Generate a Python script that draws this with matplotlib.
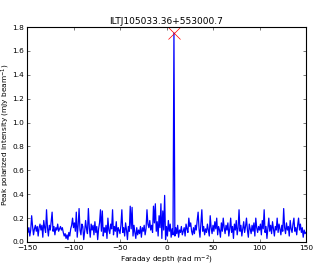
import numpy as np
import matplotlib
matplotlib.use('Agg')
import matplotlib.pyplot as plt

SOURCE = 'ILTJ105033.36+553000.7'
PHI_MIN = -150
PHI_MAX = 150

# peak polarized intensity at each faraday depth, 1 rad m^-2 steps
intensity = [
    0.14, 0.08, 0.12, 0.05, 0.10, 0.22, 0.13, 0.06, 0.11, 0.14,
    0.09, 0.13, 0.05, 0.12, 0.15, 0.10, 0.14, 0.04, 0.18, 0.12,
    0.08, 0.27, 0.12, 0.05, 0.14, 0.10, 0.17, 0.25, 0.09, 0.13,
    0.06, 0.12, 0.10, 0.15, 0.09, 0.11, 0.13, 0.10, 0.12, 0.08,
    0.05, 0.07, 0.03, 0.06, 0.02, 0.08, 0.05, 0.11, 0.14, 0.20,
    0.12, 0.16, 0.09, 0.25, 0.04, 0.14, 0.28, 0.10, 0.06, 0.15,
    0.13, 0.02, 0.09, 0.18, 0.11, 0.07, 0.28, 0.12, 0.04, 0.15,
    0.10, 0.14, 0.06, 0.17, 0.08, 0.13, 0.02, 0.11, 0.16, 0.27,
    0.09, 0.26, 0.05, 0.12, 0.08, 0.14, 0.03, 0.20, 0.10, 0.07,
    0.15, 0.11, 0.27, 0.06, 0.13, 0.09, 0.17, 0.04, 0.12, 0.10,
    0.07, 0.14, 0.27, 0.08, 0.12, 0.05, 0.16, 0.10, 0.02, 0.13,
    0.09, 0.30, 0.11, 0.29, 0.05, 0.14, 0.08, 0.03, 0.12, 0.06,
    0.10, 0.07, 0.13, 0.04, 0.12, 0.09, 0.14, 0.06, 0.11, 0.27,
    0.15, 0.12, 0.18, 0.10, 0.14, 0.08, 0.30, 0.16, 0.32, 0.09,
    0.17, 0.05, 0.22, 0.12, 0.32, 0.03, 0.26, 0.10, 0.39, 0.02,
    0.13, 0.05, 0.18, 0.09, 0.15, 0.04, 0.11, 0.06, 1.75, 0.05,
    0.12, 0.07, 0.14, 0.04, 0.10, 0.08, 0.13, 0.06, 0.09, 0.12,
    0.05, 0.15, 0.11, 0.08, 0.20, 0.13, 0.16, 0.09, 0.06, 0.12,
    0.07, 0.14, 0.10, 0.18, 0.25, 0.11, 0.04, 0.15, 0.27, 0.09,
    0.13, 0.06, 0.11, 0.08, 0.15, 0.10, 0.05, 0.22, 0.12, 0.07,
    0.14, 0.09, 0.17, 0.11, 0.20, 0.06, 0.13, 0.10, 0.04, 0.16,
    0.09, 0.20, 0.12, 0.07, 0.14, 0.10, 0.16, 0.05, 0.11, 0.20,
    0.08, 0.13, 0.03, 0.15, 0.10, 0.18, 0.06, 0.12, 0.27, 0.09,
    0.14, 0.05, 0.11, 0.17, 0.08, 0.13, 0.20, 0.10, 0.04, 0.15,
    0.11, 0.07, 0.14, 0.09, 0.16, 0.05, 0.20, 0.12, 0.08, 0.13,
    0.10, 0.15, 0.06, 0.18, 0.11, 0.27, 0.08, 0.13, 0.03, 0.12,
    0.20, 0.09, 0.14, 0.07, 0.17, 0.11, 0.05, 0.13, 0.10, 0.20,
    0.08, 0.15, 0.11, 0.06, 0.14, 0.09, 0.28, 0.12, 0.07, 0.16,
    0.10, 0.13, 0.05, 0.18, 0.11, 0.08, 0.15, 0.20, 0.09, 0.12,
    0.06, 0.14, 0.20, 0.10, 0.15, 0.08, 0.12, 0.04, 0.10, 0.07, 0.08,
]
xticks = [-150, -100, -50, 0, 50, 100, 150]
yticks = [0.0, 0.2, 0.4, 0.6, 0.8, 1.0, 1.2, 1.4, 1.6, 1.8]

phi = np.arange(PHI_MIN, PHI_MAX + 1)
intensity = np.array(intensity)
ipeak = np.argmax(intensity)

fig = plt.figure(figsize=(3.25, 2.65), dpi=100)
ax = fig.add_axes([27 / 325, 1 - 242 / 265, 279 / 325, 215 / 265])

ax.plot(phi, intensity, color='b', lw=0.9)
ax.plot(phi[ipeak], intensity[ipeak], 'x', color='red', ms=9, mew=0.5)

ax.set_xlim(PHI_MIN, PHI_MAX)
ax.set_ylim(0, 1.8)
ax.set_xticks(xticks)
ax.set_yticks(yticks)
ax.set_xticklabels([str(t).replace('-', '\u2212') for t in xticks])
ax.set_yticklabels(['%.1f' % t for t in yticks])
ax.tick_params(direction='in', top=True, right=True, labelsize=5.3,
               length=2.5, width=0.5, color='#444444', pad=2)
for s in ax.spines.values():
    s.set_color('black')
    s.set_linewidth(0.8)

ax.set_title(SOURCE, fontsize=6.5, pad=2)
ax.set_xlabel('Faraday depth (rad m$^{-2}$)', fontsize=5.3, labelpad=2)
ax.set_ylabel('Peak polarized intensity (mJy beam$^{-1}$)', fontsize=5.3)
# keep the rotated label clear of the left edge
ax.yaxis.set_label_coords(-15 / 279, 0.5)

fig.savefig('out.png', dpi=100)
